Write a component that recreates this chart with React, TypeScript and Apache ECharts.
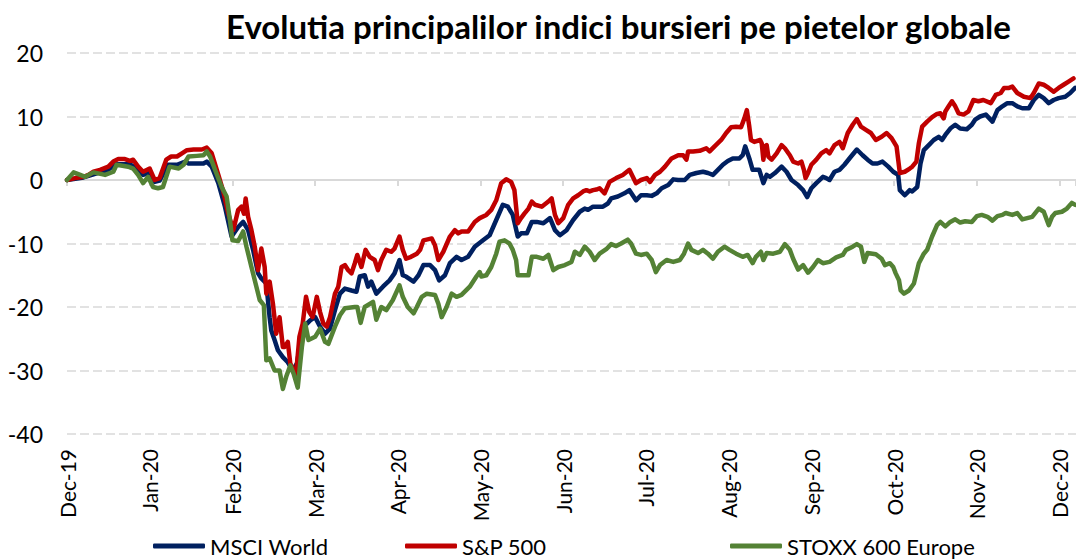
import React, { useEffect, useRef } from 'react';
import * as echarts from 'echarts';

const titleText = 'Evolutia principalilor indici bursieri pe pietelor globale';

const monthLabels = ['Dec-19', 'Jan-20', 'Feb-20', 'Mar-20', 'Apr-20', 'May-20', 'Jun-20', 'Jul-20', 'Aug-20', 'Sep-20', 'Oct-20', 'Nov-20', 'Dec-20'];

const seriesNames = ['MSCI World', 'S&P 500', 'STOXX 600 Europe'];

// [months since Dec-19, % change]
const msciWorld: [number, number][] = [
  [0, 0], [0.10, 0.2], [0.20, 0.4], [0.32, 0.9], [0.40, 1.2], [0.50, 1.6], [0.58, 2.5], [0.76, 2.5], [0.86, 1.6], [0.92, 0.8], [1.00, 1.1], [1.06, -0.3], [1.12, -0.1], [1.22, 2.4], [1.33, 2.4], [1.43, 2.9], [1.47, 2.6], [1.65, 2.6], [1.69, 2.9], [1.75, 2.1], [1.83, -0.5], [1.91, -4.2], [1.99, -8.9],
  [2.07, -7.4], [2.13, -6.6], [2.19, -7.9], [2.25, -11.0], [2.31, -14.7], [2.35, -15.5], [2.41, -16.3], [2.45, -21.6], [2.47, -23.7], [2.51, -25.2], [2.55, -26.8], [2.61, -27.9], [2.67, -28.7], [2.73, -30.0], [2.78, -28.9], [2.84, -24.2], [2.88, -22.9], [2.94, -22.1], [3.00, -21.6], [3.06, -23.1], [3.12, -24.2], [3.18, -23.4], [3.24, -20.5], [3.30, -17.9], [3.36, -17.1], [3.44, -17.4], [3.50, -17.6], [3.54, -15.2], [3.60, -15.0], [3.64, -16.8], [3.68, -16.0], [3.74, -17.9], [3.82, -16.8], [3.90, -15.8], [3.96, -14.7], [4.02, -12.6],
  [4.06, -15.0], [4.10, -15.2], [4.19, -16.0], [4.25, -15.0], [4.31, -13.4], [4.39, -13.4], [4.45, -14.2], [4.50, -15.8], [4.57, -15.0], [4.63, -13.1], [4.71, -12.1], [4.77, -12.6], [4.85, -12.1], [4.93, -10.5], [5.03, -9.5], [5.11, -8.7], [5.19, -6.3], [5.27, -3.9], [5.33, -4.2], [5.39, -5.5], [5.45, -8.9], [5.49, -8.4], [5.56, -8.4], [5.62, -6.6], [5.68, -6.6], [5.76, -6.8], [5.84, -6.0], [5.90, -7.9], [5.96, -8.7], [6.04, -7.9], [6.12, -6.3], [6.20, -5.0],
  [6.26, -4.5], [6.30, -4.7], [6.36, -4.2], [6.48, -4.2], [6.54, -3.7], [6.58, -2.9], [6.66, -2.6], [6.74, -2.1], [6.80, -1.6], [6.88, -3.2], [6.94, -2.4], [7.01, -2.4], [7.07, -2.5], [7.13, -2.1], [7.19, -1.3], [7.27, -0.8], [7.33, 0.1], [7.39, 0.0], [7.47, 0.0], [7.53, 0.8], [7.61, 1.1], [7.69, 1.3], [7.75, 1.1], [7.81, 0.8], [7.87, 1.6], [7.93, 2.4], [7.99, 3.0], [8.05, 3.4], [8.13, 3.4], [8.17, 3.9], [8.20, 5.3],
  [8.25, 3.4], [8.29, 1.6], [8.37, 1.6], [8.42, -0.5], [8.46, 0.8], [8.50, 0.5], [8.56, 1.1], [8.64, 2.1], [8.70, 1.3], [8.76, 0.0], [8.84, -0.8], [8.90, -1.6], [8.95, -2.7], [9.00, -1.3], [9.06, -0.5], [9.14, 0.5], [9.18, 0.3], [9.22, 0.0], [9.28, 1.3], [9.34, 1.6], [9.40, 2.4], [9.48, 3.7], [9.55, 4.8], [9.62, 3.9], [9.68, 3.2], [9.74, 2.6], [9.80, 2.6], [9.86, 2.9], [9.93, 2.1], [9.99, 1.3], [10.05, 0.8], [10.07, -1.6], [10.13, -2.4], [10.19, -1.6],
  [10.22, -1.8], [10.28, -1.1], [10.32, 2.6], [10.36, 4.7], [10.42, 5.5], [10.48, 6.3], [10.54, 6.8], [10.58, 6.3], [10.62, 7.1], [10.68, 8.1], [10.74, 8.7], [10.80, 8.1], [10.88, 8.0], [10.94, 8.7], [10.98, 9.5], [11.04, 10.0], [11.11, 10.3], [11.19, 9.2], [11.25, 11.0], [11.31, 11.6], [11.37, 12.1], [11.43, 12.1], [11.49, 11.6], [11.55, 11.3], [11.63, 11.3], [11.69, 12.6], [11.75, 13.4], [11.81, 12.9], [11.87, 12.1], [11.93, 12.6], [11.99, 12.9], [12.07, 13.1], [12.13, 13.7], [12.19, 14.5],
];

const sp500: [number, number][] = [
  [0, 0], [0.10, 0.3], [0.20, 0.5], [0.26, 0.8], [0.32, 1.3], [0.40, 1.6], [0.50, 2.1], [0.56, 2.9], [0.62, 3.3], [0.70, 3.3], [0.76, 3.0], [0.80, 3.2], [0.86, 2.1], [0.92, 1.3], [1.00, 1.8], [1.06, 0.0], [1.12, 0.3], [1.20, 3.2], [1.26, 3.7], [1.33, 3.7], [1.39, 4.2], [1.45, 4.7], [1.53, 4.8], [1.63, 4.8], [1.69, 5.1], [1.75, 4.2], [1.83, 0.8], [1.89, -1.8], [1.95, -5.3], [2.01, -7.9],
  [2.07, -4.7], [2.11, -4.2], [2.14, -5.3], [2.16, -2.9], [2.19, -5.8], [2.23, -7.9], [2.27, -10.5], [2.31, -14.2], [2.35, -10.8], [2.39, -13.7], [2.41, -17.9], [2.45, -16.0], [2.49, -19.5], [2.53, -24.2], [2.57, -21.6], [2.61, -26.3], [2.63, -26.3], [2.67, -25.5], [2.70, -28.9], [2.74, -30.0], [2.77, -30.5], [2.81, -24.7], [2.85, -22.6], [2.89, -18.4], [2.93, -20.8], [2.97, -21.6], [3.02, -18.4], [3.06, -20.8], [3.10, -22.6], [3.14, -23.1], [3.18, -21.6], [3.24, -17.9], [3.28, -16.8], [3.32, -13.7], [3.36, -13.4], [3.40, -14.2], [3.44, -14.7], [3.48, -13.1], [3.51, -11.8], [3.56, -13.7], [3.61, -11.0], [3.66, -12.1], [3.72, -12.6], [3.76, -14.2], [3.80, -12.6], [3.86, -11.0], [3.92, -11.3], [3.96, -10.8], [4.02, -8.9],
  [4.06, -11.0], [4.10, -12.4], [4.16, -12.1], [4.23, -11.6], [4.27, -11.0], [4.31, -9.5], [4.41, -9.2], [4.45, -10.3], [4.49, -12.6], [4.55, -11.3], [4.63, -8.9], [4.69, -7.9], [4.73, -8.4], [4.77, -8.1], [4.85, -8.1], [4.93, -6.6], [4.99, -6.0], [5.07, -5.5], [5.13, -4.7], [5.19, -3.2], [5.25, -0.5], [5.31, 0.1], [5.37, -0.3], [5.41, -1.6], [5.45, -6.8], [5.49, -6.0], [5.53, -5.3], [5.58, -4.5], [5.62, -3.4], [5.66, -3.9], [5.74, -4.2], [5.82, -3.4], [5.86, -2.9], [5.90, -5.5], [5.94, -6.8], [6.00, -6.0], [6.06, -3.9], [6.12, -2.9], [6.18, -2.4],
  [6.24, -1.8], [6.28, -1.6], [6.32, -1.8], [6.36, -1.6], [6.40, -1.5], [6.44, -1.3], [6.50, -2.1], [6.56, -0.3], [6.64, 0.3], [6.72, 0.8], [6.80, 1.6], [6.88, -0.5], [6.94, 0.0], [7.01, 0.3], [7.05, -0.3], [7.11, 0.8], [7.17, 1.3], [7.23, 2.1], [7.31, 3.4], [7.39, 3.9], [7.45, 3.9], [7.49, 3.2], [7.51, 4.5], [7.57, 4.5], [7.65, 4.6], [7.73, 5.0], [7.77, 4.5], [7.83, 5.3], [7.91, 6.3], [7.97, 7.4], [8.03, 8.3], [8.09, 8.4], [8.15, 8.3], [8.19, 9.7], [8.22, 11.0],
  [8.25, 8.4], [8.27, 6.3], [8.31, 6.0], [8.38, 6.3], [8.40, 5.8], [8.42, 3.2], [8.44, 5.3], [8.46, 5.5], [8.48, 3.7], [8.52, 3.2], [8.58, 4.2], [8.64, 5.5], [8.68, 5.0], [8.74, 3.9], [8.78, 2.9], [8.84, 2.6], [8.88, 2.9], [8.91, 1.6], [8.93, 0.3], [8.96, 1.1], [9.00, 2.4], [9.06, 3.2], [9.12, 4.2], [9.18, 4.7], [9.22, 4.2], [9.28, 5.5], [9.34, 6.0], [9.38, 5.0], [9.44, 7.4], [9.50, 8.7], [9.55, 9.6], [9.60, 8.4], [9.66, 7.9], [9.72, 7.4], [9.78, 6.3], [9.85, 6.8], [9.91, 7.4], [9.97, 6.6], [10.03, 5.3], [10.07, 1.1], [10.13, 1.3], [10.19, 1.8],
  [10.22, 2.1], [10.27, 2.9], [10.30, 5.8], [10.34, 8.4], [10.40, 9.2], [10.46, 9.9], [10.52, 10.4], [10.56, 10.5], [10.60, 9.7], [10.62, 10.8], [10.66, 11.6], [10.70, 12.4], [10.74, 11.6], [10.78, 10.5], [10.84, 10.3], [10.90, 10.8], [10.96, 12.6], [11.02, 12.4], [11.08, 12.6], [11.17, 12.1], [11.23, 13.4], [11.29, 13.7], [11.33, 14.5], [11.39, 14.5], [11.43, 14.7], [11.49, 13.7], [11.57, 13.1], [11.65, 12.9], [11.69, 13.7], [11.75, 15.2], [11.81, 15.0], [11.87, 14.5], [11.93, 13.9], [11.99, 14.5], [12.05, 15.0], [12.11, 15.5], [12.17, 16.0],
];

const stoxx600: [number, number][] = [
  [0, 0], [0.08, 1.2], [0.16, 0.8], [0.22, 0.5], [0.32, 1.2], [0.46, 0.8], [0.56, 1.3], [0.60, 2.4], [0.74, 2.1], [0.80, 1.8], [0.86, 0.8], [0.92, -0.5], [0.98, 0.5], [1.04, -1.1], [1.10, -1.3], [1.16, -1.1], [1.24, 2.1], [1.35, 1.8], [1.41, 2.4], [1.47, 3.7], [1.57, 3.8], [1.65, 3.9], [1.69, 4.5], [1.73, 3.7], [1.79, 1.6], [1.87, -1.1], [1.93, -2.6], [1.97, -6.3], [2.00, -9.5], [2.07, -9.6],
  [2.13, -8.1], [2.17, -10.5], [2.23, -13.7], [2.29, -16.8], [2.33, -18.9], [2.38, -19.7], [2.41, -28.4], [2.45, -28.1], [2.51, -30.0], [2.57, -30.0], [2.61, -32.9], [2.65, -31.0], [2.70, -29.2], [2.74, -30.5], [2.79, -32.7], [2.84, -26.3], [2.88, -22.6], [2.92, -25.2], [3.00, -24.7], [3.06, -23.4], [3.12, -25.5], [3.16, -25.8], [3.24, -23.1], [3.30, -21.3], [3.36, -20.2], [3.48, -20.0], [3.51, -20.0], [3.55, -22.5], [3.60, -20.0], [3.70, -19.2], [3.74, -22.0], [3.80, -20.0], [3.86, -20.5], [3.94, -18.9], [4.02, -16.6],
  [4.06, -18.4], [4.12, -20.0], [4.19, -21.0], [4.23, -20.0], [4.29, -18.4], [4.35, -17.9], [4.45, -18.1], [4.49, -19.5], [4.53, -21.6], [4.59, -20.0], [4.65, -17.9], [4.71, -18.4], [4.77, -18.1], [4.87, -16.8], [4.95, -15.2], [4.99, -14.5], [5.01, -15.2], [5.07, -15.0], [5.13, -13.7], [5.19, -11.6], [5.23, -9.7], [5.29, -9.5], [5.35, -10.0], [5.39, -11.0], [5.43, -12.6], [5.45, -15.0], [5.51, -15.0], [5.58, -15.0], [5.62, -12.1], [5.68, -12.1], [5.76, -12.4], [5.82, -11.8], [5.88, -14.2], [5.94, -13.7], [6.02, -13.4], [6.10, -12.9], [6.14, -11.3], [6.20, -11.8],
  [6.26, -10.5], [6.32, -11.3], [6.38, -12.6], [6.44, -11.6], [6.52, -10.9], [6.58, -10.1], [6.64, -10.4], [6.70, -10.0], [6.78, -9.4], [6.82, -10.0], [6.88, -11.6], [6.94, -11.8], [7.01, -11.6], [7.07, -12.6], [7.12, -14.5], [7.17, -13.4], [7.25, -12.6], [7.33, -12.9], [7.41, -12.6], [7.46, -11.6], [7.51, -10.0], [7.55, -11.0], [7.63, -11.5], [7.69, -11.0], [7.75, -11.6], [7.81, -12.4], [7.87, -11.3], [7.95, -10.5], [8.01, -11.0], [8.09, -11.6], [8.17, -12.1], [8.23, -11.8],
  [8.29, -13.1], [8.33, -12.1], [8.39, -11.3], [8.42, -12.6], [8.46, -11.5], [8.54, -11.6], [8.62, -11.3], [8.68, -10.1], [8.74, -11.0], [8.78, -12.4], [8.84, -14.1], [8.90, -13.4], [8.96, -14.6], [9.02, -13.7], [9.08, -12.6], [9.14, -13.1], [9.22, -12.9], [9.30, -12.2], [9.38, -11.8], [9.42, -11.0], [9.50, -10.5], [9.55, -10.1], [9.60, -10.5], [9.64, -12.9], [9.68, -11.5], [9.78, -11.7], [9.85, -12.4], [9.89, -13.4], [9.95, -13.1], [9.99, -13.7],
  [10.02, -14.7], [10.06, -15.8], [10.08, -17.4], [10.12, -17.9], [10.18, -17.4], [10.24, -16.3], [10.30, -13.1], [10.36, -11.6], [10.40, -11.0], [10.46, -8.9], [10.52, -7.1], [10.56, -6.6], [10.62, -7.3], [10.68, -6.6], [10.74, -6.2], [10.80, -6.7], [10.86, -6.5], [10.94, -6.6], [11.00, -5.7], [11.06, -5.5], [11.13, -5.8], [11.19, -6.4], [11.25, -5.7], [11.31, -5.5], [11.35, -5.2], [11.43, -5.5], [11.49, -5.2], [11.55, -6.2], [11.61, -6.0], [11.67, -5.8], [11.75, -4.5], [11.81, -5.0], [11.87, -7.1], [11.91, -5.8], [11.95, -5.2], [12.03, -5.0], [12.09, -4.5], [12.15, -3.6], [12.19, -3.9],
];

const seriesData = [msciWorld, sp500, stoxx600];
const seriesColors = ['#002060', '#C00000', '#548235'];
const legendLefts = [153, 405, 730];

const FONT = 'Lato, sans-serif';

export default function App() {
  const ref = useRef<HTMLDivElement>(null);

  useEffect(() => {
    if (!ref.current) return;
    const chart = echarts.init(ref.current, null, { renderer: 'svg' });
    const xBase = {
      type: 'value',
      min: 0,
      max: 12.2,
      interval: 1,
      splitLine: { show: false },
    };
    chart.setOption({
      animation: false,
      backgroundColor: '#ffffff',
      title: {
        text: titleText,
        left: 226,
        top: 9,
        padding: 0,
        textStyle: { fontFamily: FONT, fontWeight: 'bold', fontSize: 33, color: '#000000' },
      },
      legend: seriesNames.map((name, i) => ({
        data: [name],
        left: legendLefts[i],
        top: 535,
        padding: 0,
        icon: 'roundRect',
        itemWidth: 52,
        itemHeight: 5,
        itemGap: 5,
        textStyle: { fontFamily: FONT, fontSize: 22, color: '#000000', padding: [0, 0, 0, 0] },
      })),
      grid: { left: 67, right: 0, top: 53, bottom: 125, containLabel: false, outerBoundsMode: 'none' },
      xAxis: [
        {
          ...xBase,
          position: 'bottom',
          axisLine: { show: false, onZero: false },
          axisTick: { show: false },
          axisLabel: {
            rotate: 90,
            margin: 15,
            fontFamily: FONT,
            fontSize: 21,
            color: '#000000',
            showMaxLabel: false,
            formatter: (v: number) => {
              const i = Math.round(v);
              if (Math.abs(v - i) > 1e-6) return '';
              return monthLabels[i] ?? '';
            },
          },
        },
        {
          ...xBase,
          position: 'top',
          axisLine: { show: true, onZero: true, lineStyle: { color: '#d9d9d9', width: 2 } },
          axisTick: { show: true, inside: true, length: 6, lineStyle: { color: '#d9d9d9', width: 2 } },
          axisLabel: { show: false },
        },
      ],
      yAxis: {
        type: 'value',
        min: -40,
        max: 20,
        interval: 10,
        axisLine: { show: false },
        axisTick: { show: false },
        axisLabel: { margin: 24, fontFamily: FONT, fontSize: 23, color: '#000000' },
        splitLine: { lineStyle: { color: '#d9d9d9', width: 1.5, type: [9, 4] } },
      },
      series: seriesNames.map((name, i) => ({
        name,
        type: 'line',
        xAxisIndex: 0,
        data: seriesData[i],
        symbol: 'none',
        showSymbol: false,
        color: seriesColors[i],
        lineStyle: { width: 4.5, color: seriesColors[i], cap: 'round', join: 'round' },
        z: 2 + i,
      })),
    });
    return () => chart.dispose();
  }, []);

  return (
    <div
      ref={ref}
      style={{ position: 'absolute', left: 0, top: 0, width: 1076, height: 559, background: '#ffffff' }}
    />
  );
}
